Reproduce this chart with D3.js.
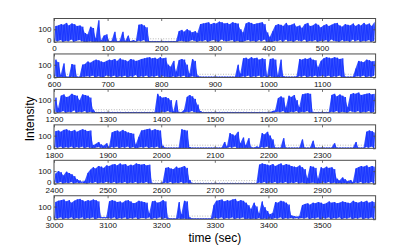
<!DOCTYPE html>
<html>
<head>
<meta charset="utf-8">
<script src="https://cdn.jsdelivr.net/npm/d3@7"></script>
<style>
  html, body { margin: 0; padding: 0; background: #fff; }
  svg text { font-family: "Liberation Sans", Arial, sans-serif; }
</style>
</head>
<body>
<div id="chart"></div>
<script>
// Intensity traces in 5 sec bins.
// Each char is one bin, base-36 digit * 5 = intensity (so 'k' = 100, 'u' = 150).
// hi = top of the trace in that bin, lo = bottom of the trace in that bin.
const binSec = 5;
const panelStarts = [0, 600, 1200, 1800, 2400, 3000];
const panelLen = 600;

const hi1 = "pqsruqtspqo" + "ec" + "om" + "6y2" + "ac12g12g1a131" + "rsqn" + "11111111111" +
  "hjgkifhe" + "stuvsutwvtusvut" + "kf" + "tvustuvs" + "f8h" + "qsrpuqrtoqmsupqtrnqsprtuqosrqtpsqurtpv";
const lo1 = "21302140231" + "00" + "10" + "000" + "0000000000000" + "2130" + "00000000000" +
  "12101320" + "213023104212302" + "00" + "23120314" + "000" + "21304120321402130213042103120413021302";

const hi2 = "so4m11" + "lk" + "11" + "kl" + "pnqsrpoq" + "srtqusrptsqr" + "tuvwuvtwuv" + "khq9" +
  "rtsk6tq3" + "11111111111111" + "k6" + "uvtwuvsut" + "2" + "tus3s2" + "1111" + "2tsutvsr" +
  "gq" + "uwvuwvtu" + "1111" + "eqposrpq";
const lo2 = "201000" + "10" + "00" + "11" + "21302103" + "213021302140" + "2130213021" + "1020" +
  "21300210" + "00000000000000" + "00" + "213021302" + "0" + "210010" + "0000" + "02130213" +
  "12" + "21302130" + "0000" + "12130213";

const hi3 = "o7rtpqusrktsro" + "5" + "11111111111111111111111" + "uq" + "opnk" + "2k11" + "5psqmd3" +
  "11111111111111111111111111" + "34" + "nqo8rpsk9tuvu" + "1111111" + "suqtrp9tvuwstuvtu";
const lo3 = "20130214021302" + "0" + "00000000000000000000000" + "00" + "2131" + "0000" + "0213100" +
  "00000000000000000000000000" + "01" + "2130021302130" + "0000000" + "21302103213021302";

const hi4 = "rsqtusrtqsutrs" + "5" + "7a6482" + "prsqtrpon" + "6i" + "stuvsuts" + "4" + "111111" +
  "ut" + "s2" + "111111111111" + "a3" + "omkq8" + "h5g" + "213" + "2omq" + "ke" + "111g11" +
  "1111e111c111" + "111181111111a111" + "qsrp";
const lo4 = "21302130213021" + "0" + "121010" + "213021302" + "01" + "21302130" + "0" + "000000" +
  "00" + "00" + "000000000000" + "00" + "21300" + "000" + "000" + "0213" + "00" + "000000" +
  "000000000000" + "0000000000000000" + "2130";

const hi5 = "gkidjhfc" + "7535" + "hmqosrpt" + "suvtwuvsutwvuvtu" + "1111" + "2" + "pqonrpqsp" + "6" +
  "1111111111111111111111111" + "uwvutvsuwtvu" + "srqt" + "qn9s" + "rp8q" + "orpqn8" + "5a7463" + "oqsrtqsr";
const lo5 = "21302130" + "2121" + "02130213" + "2130213021302130" + "0000" + "0" + "213021302" + "0" +
  "0000000000000000000000000" + "213021302130" + "2130" + "2101" + "2101" + "213020" + "101010" + "21302130";

const hi6 = "rtuvsuqtvwusutvus" + "333" + "sutrsqtuspqts" + "rq9stqrus" + "2111" + "r8ts3" + "11111111" + "m" +
  "tuvsutvwsutq" + "mgqk9sjd8a" + "rqtsqn" + "6545" + "mopnqprqopsqrpqsrqptrqsrtqsr";
const lo6 = "21302130213021302" + "222" + "2130213021302" + "213021302" + "0000" + "10100" + "00000000" + "1" +
  "213021302130" + "1010201010" + "213021" + "2121" + "2130213021302130213021302130";

const hiAll = [hi1, hi2, hi3, hi4, hi5, hi6];
const loAll = [lo1, lo2, lo3, lo4, lo5, lo6];
const yTicks = [0, 100];
const threshold = 25;

const decode = s => Array.from(s, c => parseInt(c, 36) * 5);

// layout
const W = 415, H = 249;
const left = 54, right = 375.6;
const top0 = 18.5, step = 35.45, ph = 23.5;
const axisColor = '#4d4d4d';

const svg = d3.select('#chart').append('svg')
  .attr('width', W)
  .attr('height', H);

hiAll.forEach((hs, k) => {
  const hi = decode(hs), lo = decode(loAll[k]);
  if (hi.length !== 120 || lo.length !== 120) throw new Error('panel ' + k + ' len ' + hi.length + '/' + lo.length);

  const t0 = panelStarts[k];
  const yTop = top0 + k * step, yBot = yTop + ph;

  const x = d3.scaleLinear().domain([t0, t0 + panelLen]).range([left, right]);
  const y = d3.scaleLinear().domain([0, 185]).range([yBot, yTop]);

  const g = svg.append('g');

  // clip so the trace stays inside the box
  const clipId = 'clip' + k;
  g.append('clipPath').attr('id', clipId)
    .append('rect')
    .attr('x', left).attr('y', yTop)
    .attr('width', right - left).attr('height', ph);

  // dotted threshold line
  g.append('line')
    .attr('x1', left).attr('x2', right)
    .attr('y1', y(threshold)).attr('y2', y(threshold))
    .attr('stroke', '#9a9a9a')
    .attr('stroke-width', 0.7)
    .attr('stroke-dasharray', '1,1.6');

  const bins = hi.map((v, i) => ({ t: t0 + i * binSec, hi: v, lo: lo[i] }));

  // band between bottom and top of the trace in each bin
  const area = d3.area()
    .x(d => x(d.t + binSec / 2))
    .y0(d => y(d.lo))
    .y1(d => y(d.hi));
  g.append('path')
    .attr('clip-path', `url(#${clipId})`)
    .attr('d', area(bins))
    .attr('fill', '#3a55ff');

  // zig-zag trace on top: bottom then top of each bin
  const pts = [];
  bins.forEach(b => {
    pts.push([b.t + binSec * 0.25, b.lo]);
    pts.push([b.t + binSec * 0.75, b.hi]);
  });
  const line = d3.line().x(d => x(d[0])).y(d => y(d[1]));
  g.append('path')
    .attr('clip-path', `url(#${clipId})`)
    .attr('d', line(pts))
    .attr('fill', 'none')
    .attr('stroke', '#1834ff')
    .attr('stroke-width', 0.9)
    .attr('stroke-linejoin', 'round');

  // axes, ticks pointing in
  const xTicks = d3.range(t0, t0 + panelLen, 100);
  const xAx = g.append('g')
    .attr('transform', `translate(0,${yBot})`)
    .call(d3.axisBottom(x).tickValues(xTicks).tickFormat(d3.format('d'))
      .tickSizeInner(-2.5).tickSizeOuter(0).tickPadding(3.5));
  const xTop = g.append('g')
    .attr('transform', `translate(0,${yTop})`)
    .call(d3.axisTop(x).tickValues(xTicks).tickFormat('')
      .tickSizeInner(-2.5).tickSizeOuter(0));
  const yAx = g.append('g')
    .attr('transform', `translate(${left},0)`)
    .call(d3.axisLeft(y).tickValues(yTicks)
      .tickSizeInner(-2.5).tickSizeOuter(0).tickPadding(2.5));
  const yRight = g.append('g')
    .attr('transform', `translate(${right},0)`)
    .call(d3.axisRight(y).tickValues(yTicks).tickFormat('')
      .tickSizeInner(-2.5).tickSizeOuter(0));

  [xAx, xTop, yAx, yRight].forEach(a => {
    a.select('.domain').remove();
    a.selectAll('line').attr('stroke', axisColor).attr('stroke-width', 0.8);
    a.selectAll('text').attr('font-size', 8).attr('fill', '#111');
  });
  // lift the "0" label a touch off the x labels below it
  yAx.selectAll('text').filter(d => d === 0).attr('dy', '0.1em');

  // box
  g.append('rect')
    .attr('x', left).attr('y', yTop)
    .attr('width', right - left).attr('height', ph)
    .attr('fill', 'none')
    .attr('stroke', axisColor)
    .attr('stroke-width', 1);
});

// axis titles
svg.append('text')
  .attr('x', (left + right) / 2)
  .attr('y', 242)
  .attr('text-anchor', 'middle')
  .attr('font-size', 12)
  .text('time (sec)');

svg.append('text')
  .attr('transform', `translate(34,${(top0 + 5 * step + ph + top0) / 2}) rotate(-90)`)
  .attr('text-anchor', 'middle')
  .attr('font-size', 12)
  .text('Intensity');
</script>
</body>
</html>
